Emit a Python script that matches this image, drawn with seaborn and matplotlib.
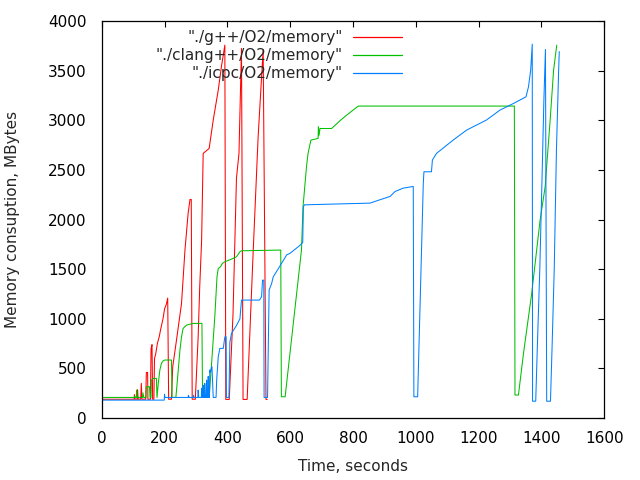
import matplotlib
matplotlib.use("Agg")
import matplotlib.pyplot as plt
import seaborn as sns
import pandas as pd

# ./g++/O2/memory
gpp_t = [0, 103, 104, 106, 113, 114, 116, 124, 126, 128, 140, 142, 146, 147, 155, 157, 160, 162,
         166, 168, 172, 177, 183, 188, 195, 200, 206, 210, 213, 222, 226, 238, 254, 265, 275, 281,
         285, 288, 298, 307, 312, 318, 323, 342, 355, 371, 381, 392, 395, 406, 418, 429, 437, 445,
         450, 463, 482, 498, 514, 523, 527]
gpp_m = [190, 190, 235, 190, 190, 285, 190, 190, 350, 190, 190, 460, 460, 190, 190, 700, 740, 190,
         190, 600, 650, 750, 820, 900, 1000, 1100, 1150, 1209, 190, 190, 517, 786, 1155, 1693, 2062, 2203,
         2203, 190, 190, 819, 1323, 1793, 2667, 2717, 3003, 3305, 3540, 3758, 188, 188, 1047, 2418, 2667, 3725,
         188, 188, 1660, 2835, 3710, 188, 188]

# ./clang++/O2/memory
clang_t = [0, 104, 105, 107, 110, 111, 113, 130, 131, 134, 141, 142, 152, 154, 157, 158, 164, 174,
           176, 180, 185, 190, 196, 201, 222, 224, 236, 240, 249, 254, 259, 270, 291, 319, 321, 342,
           349, 360, 367, 371, 378, 384, 392, 418, 429, 440, 445, 570, 572, 584, 636, 641, 652, 657,
           666, 689, 690, 692, 695, 732, 760, 780, 817, 1314, 1316, 1327, 1343, 1369, 1396, 1412, 1428,
           1439, 1449]
clang_m = [208, 208, 218, 208, 208, 282, 208, 208, 255, 208, 208, 316, 316, 208, 208, 383, 400, 400,
           208, 349, 484, 551, 578, 585, 585, 208, 208, 349, 685, 819, 903, 937, 954, 954, 208, 208,
           517, 1021, 1423, 1507, 1524, 1558, 1575, 1608, 1625, 1676, 1686, 1693, 215, 215, 1693, 2130, 2532, 2667,
           2801, 2818, 2935, 2850, 2918, 2918, 3000, 3053, 3144, 3144, 232, 232, 650, 1250, 1995, 2330, 3003,
           3507, 3758]

# ./icpc/O2/memory
icpc_t = [0, 199, 200, 201, 275, 276, 278, 291, 292, 294, 306, 307, 309, 317, 318, 320, 322, 323,
          325, 327, 328, 330, 333, 334, 336, 338, 339, 341, 343, 344, 346, 350, 351, 355, 364, 366,
          371, 376, 387, 392, 396, 397, 405, 408, 413, 419, 429, 440, 445, 502, 509, 512, 516, 517,
          528, 533, 541, 546, 567, 589, 599, 631, 640, 642, 646, 854, 886, 918, 934, 960, 992, 994,
          1006, 1024, 1026, 1050, 1053, 1066, 1119, 1162, 1225, 1268, 1311, 1351, 1359, 1366, 1371, 1372,
          1382, 1388, 1395, 1402, 1408, 1413, 1417, 1429, 1434, 1441, 1448, 1455, 1457]
icpc_m = [181, 181, 240, 208, 208, 230, 208, 208, 230, 208, 208, 282, 208, 208, 300, 208, 208, 330,
          208, 208, 350, 208, 208, 383, 208, 208, 420, 208, 208, 484, 460, 517, 517, 208, 208, 383,
          618, 702, 702, 819, 819, 208, 208, 766, 850, 883, 933, 1000, 1189, 1189, 1223, 1390, 1390, 208,
          208, 1290, 1356, 1423, 1530, 1645, 1659, 1740, 1770, 2130, 2149, 2166, 2200, 2233, 2283, 2317, 2334, 215,
          215, 2367, 2482, 2482, 2600, 2667, 2801, 2902, 3003, 3103, 3170, 3237, 3338, 3507, 3768, 170,
          170, 800, 1500, 2400, 3200, 3715, 170, 170, 700, 1500, 2700, 3500, 3693]

labels = ['"./g++/O2/memory"', '"./clang++/O2/memory"', '"./icpc/O2/memory"']
colors = ['#ff0000', '#00c000', '#0080ff']

df = pd.concat([
    pd.DataFrame({"t": gpp_t, "mem": gpp_m, "run": labels[0]}),
    pd.DataFrame({"t": clang_t, "mem": clang_m, "run": labels[1]}),
    pd.DataFrame({"t": icpc_t, "mem": icpc_m, "run": labels[2]}),
], ignore_index=True)

sns.set_style("white")
plt.rcParams['font.family'] = ['DejaVu Sans']
fs = 11

fig = plt.figure(figsize=(6.4, 4.8), dpi=100)
ax = fig.add_axes([0.159, 0.129, 0.785, 0.827])

sns.lineplot(data=df, x="t", y="mem", hue="run", palette=dict(zip(labels, colors)),
             sort=False, estimator=None, linewidth=0.75, ax=ax, legend=False)

ax.set_xlim(0, 1600)
ax.set_ylim(0, 4000)
ax.set_xticks(range(0, 1601, 200))
ax.set_yticks(range(0, 4001, 500))
ax.tick_params(direction="in", length=4.5, width=0.8, top=True, right=True,
               labelsize=fs, colors="black")
ax.tick_params(axis="x", pad=9)
ax.tick_params(axis="y", pad=11)
for s in ax.spines.values():
    s.set_visible(True)
    s.set_color("black")
    s.set_linewidth(0.9)

ax.set_xlabel("Time, seconds", fontsize=fs, labelpad=10)
ax.set_ylabel("Memory consuption, MBytes", fontsize=fs, labelpad=20)

handles = [plt.Line2D([], [], color=c, lw=0.9) for c in colors]
ax.legend(handles, labels, loc="upper right", bbox_to_anchor=(0.616, 1.0),
          frameon=False, markerfirst=False, fontsize=fs, handlelength=3.2,
          handletextpad=0.7, labelspacing=0.2, borderaxespad=0.2)

fig.savefig("out.png", dpi=100)
